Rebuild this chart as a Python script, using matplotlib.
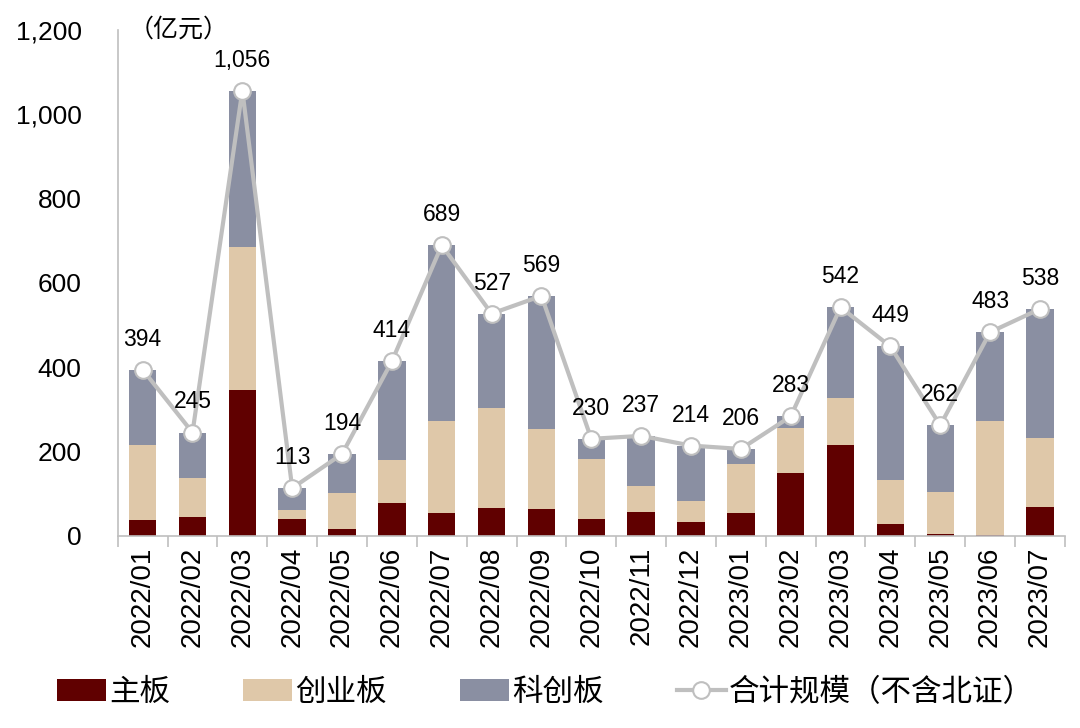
import matplotlib
matplotlib.use("Agg")
import matplotlib.pyplot as plt
import numpy as np

plt.rcParams['font.family'] = ['Liberation Sans', 'Noto Sans CJK SC', 'DejaVu Sans']

months = ["2022/01", "2022/02", "2022/03", "2022/04", "2022/05", "2022/06",
          "2022/07", "2022/08", "2022/09", "2022/10", "2022/11", "2022/12",
          "2023/01", "2023/02", "2023/03", "2023/04", "2023/05", "2023/06",
          "2023/07"]
total = [394, 245, 1056, 113, 194, 414, 689, 527, 569, 230, 237, 214,
         206, 283, 542, 449, 262, 483, 538]
mainboard = [38, 45, 345, 40, 17, 77, 54, 67, 63, 41, 56, 33,
             53, 150, 216, 28, 4, 1, 69]
chinext = [177, 93, 340, 22, 84, 102, 219, 236, 191, 142, 61, 50,
           118, 105, 111, 104, 100, 271, 162]
star = [t - m - c for t, m, c in zip(total, mainboard, chinext)]

c_main = "#600000"
c_gem = "#DFC8A9"
c_star = "#8A8FA2"
c_line = "#BFBFBF"

fig = plt.figure(figsize=(10.8, 7.28), dpi=100)
ax = fig.add_axes([0.109, 0.264, 0.877, 0.695])

x = np.arange(len(months))
w = 0.55
b1 = ax.bar(x, mainboard, w, color=c_main, label="主板")
b2 = ax.bar(x, chinext, w, bottom=mainboard, color=c_gem, label="创业板")
b3 = ax.bar(x, star, w, bottom=np.array(mainboard) + np.array(chinext),
            color=c_star, label="科创板")
ln, = ax.plot(x, total, color=c_line, lw=3, marker="o", ms=12,
              markerfacecolor="white", markeredgecolor=c_line, markeredgewidth=1.5,
              label="合计规模（不含北证）")

for i, v in enumerate(total):
    ax.annotate(f"{v:,}", (i, v), xytext=(0, 22), textcoords="offset points",
                ha="center", va="center", fontsize=16.5)

ax.set_xlim(-0.5, len(months) - 0.5)
ax.set_ylim(0, 1200)
ax.set_yticks(range(0, 1201, 200))
ax.set_yticklabels([f"{v:,}" for v in range(0, 1201, 200)], fontsize=19)
ax.set_xticks(x)
ax.set_xticklabels(months, rotation=90, fontsize=20)
ax.set_xticks(np.arange(-0.5, len(months), 1), minor=True)
ax.tick_params(axis="x", which="major", length=0, pad=8)
ax.tick_params(axis="x", which="minor", length=8, color="#BFBFBF", width=1.2)
ax.tick_params(axis="y", length=0, pad=26)

for s in ["top", "right"]:
    ax.spines[s].set_visible(False)
ax.spines["left"].set_color("#BFBFBF")
ax.spines["bottom"].set_color("#BFBFBF")
ax.spines["left"].set_linewidth(1.2)
ax.spines["bottom"].set_linewidth(1.2)

ax.text(0.012, 1.0, "（亿元）", transform=ax.transAxes, fontsize=18,
        ha="left", va="center", family=['Noto Sans CJK SC', 'DejaVu Sans'])

leg = fig.legend([b1, b2, b3, ln], ["主板", "创业板", "科创板", "合计规模（不含北证）"],
                 loc="lower center", bbox_to_anchor=(0.505, -0.01), ncol=4,
                 frameon=False, prop={'family': ['Noto Sans CJK SC'], 'size': 22},
                 handlelength=1.6, handleheight=0.7, handletextpad=0.1,
                 columnspacing=2.4)

fig.savefig("out.png", dpi=100)
